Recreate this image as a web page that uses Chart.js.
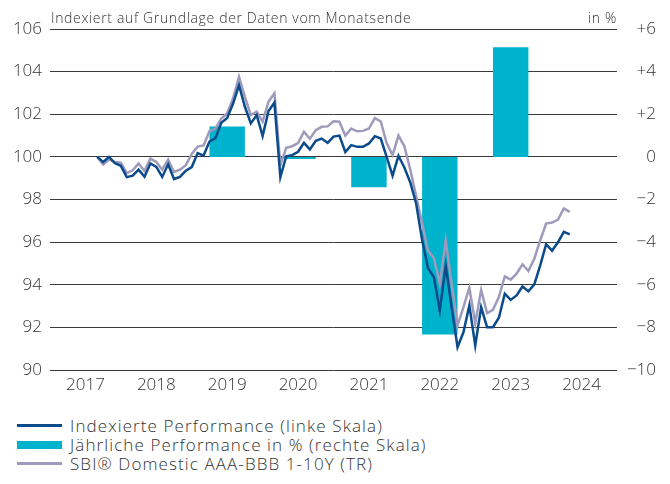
<!DOCTYPE html>
<html lang="de">
<head>
<meta charset="utf-8">
<title>Indexierte Performance</title>
<script src="https://cdn.jsdelivr.net/npm/chart.js@4.4.1/dist/chart.umd.min.js"></script>
<style>
  body { margin: 0; background: #fff; color: #333; font-family: 'Open Sans', 'Liberation Sans', Arial, sans-serif; font-weight: 300; }
  #wrap { position: relative; width: 670px; height: 484px; }
  #chart { position: absolute; left: 0; top: 0; }
  #legend { position: absolute; left: 17px; top: 416px; }
  .legend-row { display: flex; align-items: center; height: 19px; font-size: 17px; letter-spacing: 1.1px; white-space: nowrap; }
  .legend-swatch { width: 45px; margin-right: 8px; }
</style>
</head>
<body>
<div id="wrap">
  <canvas id="chart" width="670" height="400"></canvas>
  <div id="legend"></div>
</div>
<script>
const titleText = 'Indexiert auf Grundlage der Daten vom Monatsende';
const unitText = 'in %';

// x axis runs from January 2017 to December 2024, values are month-end
const startYear = 2017;
const firstMonth = 8; // August 2017
const yearLabels = [2017, 2018, 2019, 2020, 2021, 2022, 2023, 2024];

const fundIndex = [
  100.0, 99.76, 100.0, 99.7, 99.58, 99.05, 99.12, 99.4, 99.07, 99.69, 99.53, 99.06, 99.65, 98.96, 99.06, 99.35, 99.52,
  100.18, 100.06, 100.72, 100.88, 101.6, 101.82, 102.5, 103.37, 102.35, 101.57, 101.96, 100.98, 102.15, 102.55,
  99.05, 100.03, 100.08, 100.24, 100.66, 100.35, 100.75, 100.86, 100.66, 100.95, 101.0, 100.23, 100.55, 100.47,
  100.47, 100.63, 100.97, 100.86, 100.0, 99.12, 100.05, 99.5, 98.8, 97.8, 96.1, 94.78, 94.35, 92.79, 94.9, 92.95,
  91.07, 91.77, 93.03, 91.15, 92.95, 92.01, 92.01, 92.45, 93.58, 93.29, 93.5, 93.92, 93.69, 94.02, 94.91, 95.9,
  95.6, 95.99, 96.48, 96.36
];
const sbiIndex = [
  100.0, 99.64, 99.87, 99.76, 99.73, 99.24, 99.37, 99.69, 99.34, 99.92, 99.76, 99.4, 99.87, 99.29, 99.4, 99.61, 100.14,
  100.48, 100.54, 101.2, 101.33, 101.8, 102.04, 102.75, 103.76, 102.82, 101.96, 102.12, 101.65, 102.59, 102.98,
  99.6, 100.43, 100.5, 100.65, 101.18, 100.85, 101.25, 101.41, 101.43, 101.67, 101.65, 101.0, 101.33, 101.2,
  101.22, 101.33, 101.82, 101.66, 100.65, 100.08, 101.0, 100.5, 99.4, 98.15, 96.9, 95.6, 95.25, 94.04, 96.08, 94.05,
  92.09, 92.95, 93.86, 92.2, 93.76, 92.67, 92.82, 93.42, 94.39, 94.24, 94.52, 94.96, 94.64, 95.22, 96.09, 96.87,
  96.92, 97.06, 97.58, 97.42
];

const barYears = [2019, 2020, 2021, 2022, 2023];
const barValues = [1.43, -0.1, -1.42, -8.33, 5.14];

const colors = {
  fund: '#0b4a8b',
  sbi: '#9e9abb',
  bar: '#00b3cc',
  grid: '#3a3a3a',
  text: '#333'
};
const fontFamily = "'Open Sans', 'Liberation Sans', Arial, sans-serif";

function monthPoints(values) {
  return values.map((v, i) => ({ x: firstMonth + i, y: v }));
}

function yearCenter(year) {
  return (year - startYear) * 12 + 6;
}

const headerText = {
  id: 'headerText',
  afterDraw(chart) {
    const { ctx, chartArea } = chart;
    ctx.save();
    ctx.font = `300 14px ${fontFamily}`;
    ctx.letterSpacing = '0.65px';
    ctx.fillStyle = colors.text;
    ctx.textBaseline = 'alphabetic';
    ctx.textAlign = 'left';
    ctx.fillText(titleText, chartArea.left + 1, chartArea.top - 6);
    ctx.textAlign = 'right';
    ctx.fillText(unitText, chartArea.right, chartArea.top - 6);
    ctx.restore();
  }
};

const tickFont = { family: fontFamily, size: 17, weight: 300 };

const chart = new Chart(document.getElementById('chart'), {
  type: 'line',
  data: {
    datasets: [
      {
        label: 'Indexierte Performance (linke Skala)',
        data: monthPoints(fundIndex),
        borderColor: colors.fund,
        borderWidth: 2.5,
        pointRadius: 0,
        tension: 0,
        yAxisID: 'y',
        order: 0
      },
      {
        type: 'bar',
        label: 'Jährliche Performance in % (rechte Skala)',
        data: barYears.map((yr, i) => ({ x: yearCenter(yr), y: barValues[i] })),
        backgroundColor: colors.bar,
        borderWidth: 0,
        barPercentage: 0.5,
        categoryPercentage: 1,
        yAxisID: 'y2',
        order: 2
      },
      {
        label: 'SBI® Domestic AAA-BBB 1-10Y (TR)',
        data: monthPoints(sbiIndex),
        borderColor: colors.sbi,
        borderWidth: 2.5,
        pointRadius: 0,
        tension: 0,
        yAxisID: 'y',
        order: 1
      }
    ]
  },
  options: {
    responsive: false,
    animation: false,
    devicePixelRatio: 1,
    layout: { padding: { top: 29, left: 0, right: 14, bottom: 0 } },
    plugins: {
      legend: { display: false },
      tooltip: { enabled: false }
    },
    scales: {
      x: {
        type: 'linear',
        offset: false,
        min: 0,
        max: yearLabels.length * 12,
        grid: { display: false, drawTicks: false, offset: false },
        border: { display: false },
        afterBuildTicks: (scale) => {
          scale.ticks = yearLabels.map(yr => ({ value: yearCenter(yr) }));
        },
        afterFit: (scale) => { scale.height = 30; },
        ticks: {
          padding: 5,
          color: colors.text,
          font: tickFont,
          maxRotation: 0,
          autoSkip: false,
          callback: (v) => String(startYear + (v - 6) / 12)
        }
      },
      y: {
        position: 'left',
        min: 90,
        max: 106,
        grid: { color: colors.grid, lineWidth: 1, drawTicks: false },
        border: { display: false },
        afterFit: (scale) => { scale.width = 50; },
        ticks: {
          stepSize: 2,
          padding: 8,
          color: colors.text,
          font: tickFont
        }
      },
      y2: {
        position: 'right',
        min: -10,
        max: 6,
        grid: { display: false, drawTicks: false },
        border: { display: false },
        afterFit: (scale) => { scale.width = 39; },
        ticks: {
          stepSize: 2,
          padding: 10,
          crossAlign: 'far',
          color: colors.text,
          font: tickFont,
          callback: (v) => v > 0 ? '+' + v : (v < 0 ? '\u2212' + Math.abs(v) : '0')
        }
      }
    }
  },
  plugins: [headerText]
});

// legend below the chart, one entry per row
function buildLegend(chart) {
  const box = document.getElementById('legend');
  chart.data.datasets.forEach(ds => {
    const row = document.createElement('div');
    row.className = 'legend-row';
    const swatch = document.createElement('span');
    swatch.className = 'legend-swatch';
    if (ds.type === 'bar') {
      swatch.style.height = '8px';
      swatch.style.background = ds.backgroundColor;
    } else {
      swatch.style.height = '2.5px';
      swatch.style.background = ds.borderColor;
    }
    const label = document.createElement('span');
    label.textContent = ds.label;
    row.appendChild(swatch);
    row.appendChild(label);
    box.appendChild(row);
  });
}
buildLegend(chart);
</script>
</body>
</html>
